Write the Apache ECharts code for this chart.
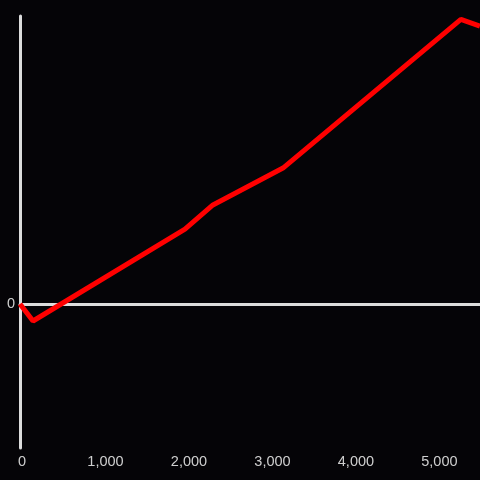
<!DOCTYPE html>
<html>
<head>
<meta charset="utf-8">
<script src="https://cdn.jsdelivr.net/npm/echarts@6/dist/echarts.min.js"></script>
<style>
  html, body { margin: 0; padding: 0; background: #050407; }
  #chart { width: 480px; height: 480px; }
</style>
</head>
<body>
<div id="chart"></div>
<script>
// values
const xValues = [0, 156, 1976, 2311, 3150, 5281, 5509];
const yValues = [0, -5.9, 26.0, 34.4, 47.2, 98.8, 96.5];
const xTickStep = 1000;
const xMax = 5510;
const yMin = -50, yMax = 100;

const chart = echarts.init(document.getElementById('chart'));
const labelStyle = { color: '#cfcfcf', fontSize: 14.5, fontFamily: 'Liberation Sans' };

chart.setOption({
  backgroundColor: '#050407',
  animation: false,
  grid: { left: 20, right: 0, top: 16, bottom: 32 },
  xAxis: [
    {
      type: 'value', min: 0, max: xMax, interval: xTickStep,
      axisLine: { show: false, onZero: false },
      axisTick: { show: false },
      splitLine: { show: false },
      axisLabel: Object.assign({ margin: 6, showMaxLabel: false, padding: [0, 0, 0, 4],
        formatter: v => v.toLocaleString('en-US') }, labelStyle)
    },
    {
      // zero line only
      type: 'value', min: 0, max: xMax, position: 'bottom',
      axisLine: { show: true, onZero: true, lineStyle: { color: '#dcdcdc', width: 3 } },
      axisTick: { show: false }, axisLabel: { show: false }, splitLine: { show: false }
    }
  ],
  yAxis: {
    type: 'value', min: yMin, max: yMax, interval: 50,
    axisLine: { show: true, onZero: false, lineStyle: { color: '#dcdcdc', width: 3 } },
    axisTick: { show: false },
    splitLine: { show: false },
    axisLabel: Object.assign({ margin: 5, formatter: v => v === 0 ? '0' : '' }, labelStyle)
  },
  series: [{
    type: 'line',
    xAxisIndex: 0,
    data: xValues.map((x, i) => [x, yValues[i]]),
    showSymbol: false,
    lineStyle: { color: '#ff0000', width: 5 },
    z: 5
  }]
});
</script>
</body>
</html>
